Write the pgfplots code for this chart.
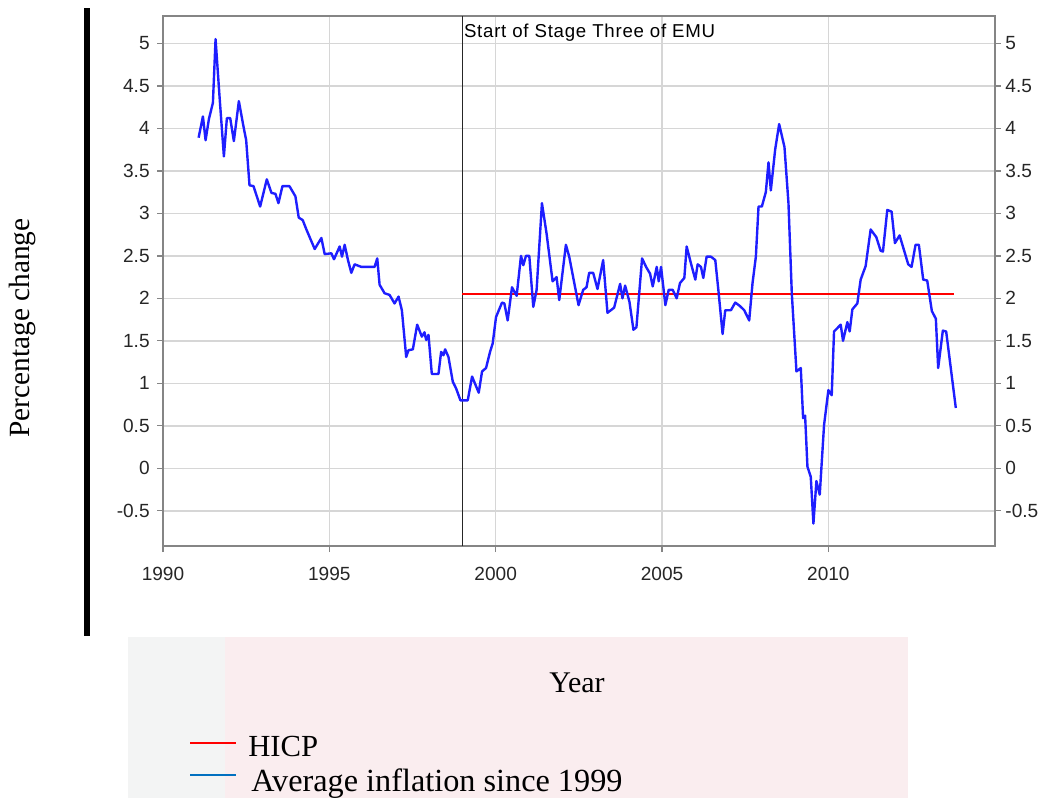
\documentclass[border=0pt]{standalone}
\usepackage{fontspec}
\setmainfont{Liberation Serif}
\newfontfamily\sansf{Liberation Sans}
\newfontfamily\sansw{Liberation Sans}[LetterSpace=4]
\usepackage{pgfplots}
\pgfplotsset{compat=1.18}
\definecolor{gridc}{HTML}{D6D6D6}
\definecolor{axc}{HTML}{858585}
\definecolor{bluel}{HTML}{1E1EFF}
\definecolor{legblue}{HTML}{0070C0}
\definecolor{wmpink}{HTML}{FAEDEF}
\definecolor{wmgray}{HTML}{F3F4F4}
\begin{document}
\begin{tikzpicture}
\begin{scope}[x=0.75pt,y=-0.75pt]
\path[use as bounding box] (0,0) rectangle (1046,798);
\fill[wmgray] (128,637) rectangle (225,798);
\fill[wmpink] (225,637) rectangle (908,798);
\fill[black] (84,8) rectangle (90,636);
\node[rotate=90, font=\fontsize{22}{26}\selectfont] at (22,328) {Percentage change};
\node[font=\fontsize{22.5}{26}\selectfont] at (577,683) {Year};
\draw[red, line width=1.5pt] (190,743) -- (236,743);
\node[anchor=base west, inner sep=0pt, font=\fontsize{23}{26}\selectfont] at (248,756) {HICP};
\draw[legblue, line width=1.5pt] (190,775) -- (236,775);
\node[anchor=base west, inner sep=0pt, font=\fontsize{24.2}{26}\selectfont] at (251,791) {Average inflation since 1999};
\end{scope}
\begin{axis}[
  at={(122.25pt,-409.5pt)}, anchor=south west, scale only axis,
  width=623.8pt, height=397.7pt,
  xmin=1990, xmax=2015, ymin=-0.914, ymax=5.325,
  xtick={1990,1995,2000,2005,2010},
  xticklabels={1990,1995,2000,2005,2010},
  ytick={-0.5,0,0.5,1,1.5,2,2.5,3,3.5,4,4.5,5},
  yticklabels={-0.5,0,0.5,1,1.5,2,2.5,3,3.5,4,4.5,5},
  xtick pos=bottom, ytick pos=left,
  tick align=outside, major tick length=4.5pt,
  grid=major, major grid style={gridc, line width=1.1pt},
  axis line style={axc, line width=1.4pt},
  tick style={axc, line width=1pt},
  ticklabel style={font=\sansf\fontsize{14.3}{16}\selectfont, text=black!85},
  xticklabel style={yshift=-8pt},
  yticklabel style={xshift=-2pt},
  clip=false,
]
\addplot[black!85, line width=1.1pt] coordinates {(1999,-0.914) (1999,5.325)};
\node[anchor=west, inner sep=1pt, font=\sansw\fontsize{14}{16}\selectfont] at (axis cs:1999,5.12) {Start of Stage Three of EMU};
\addplot[red, line width=1.5pt] coordinates {(1999,2.05) (2013.77,2.05)};
\addplot[bluel, line width=1.8pt, line join=round] coordinates {
(1991.07,3.89) (1991.20,4.14) (1991.28,3.86) (1991.38,4.11) (1991.50,4.30)
(1991.58,5.05) (1991.70,4.37) (1991.83,3.67) (1991.92,4.12) (1992.02,4.12)
(1992.13,3.85) (1992.28,4.32) (1992.42,4.02) (1992.50,3.86) (1992.60,3.33)
(1992.72,3.32) (1992.92,3.08) (1993.12,3.40) (1993.26,3.24) (1993.38,3.23)
(1993.47,3.12) (1993.59,3.32) (1993.80,3.32) (1993.98,3.20) (1994.08,2.95)
(1994.20,2.92) (1994.31,2.81) (1994.56,2.58) (1994.76,2.71) (1994.86,2.52)
(1995.06,2.53) (1995.14,2.46) (1995.31,2.61) (1995.38,2.49) (1995.46,2.63)
(1995.56,2.45) (1995.66,2.30) (1995.76,2.40) (1995.96,2.37) (1996.36,2.37)
(1996.44,2.47) (1996.51,2.16) (1996.66,2.06) (1996.81,2.04) (1996.96,1.94)
(1997.08,2.02) (1997.18,1.86) (1997.31,1.31) (1997.38,1.39) (1997.51,1.40)
(1997.64,1.69) (1997.78,1.55) (1997.86,1.60) (1997.91,1.51) (1997.98,1.57)
(1998.08,1.11) (1998.28,1.11) (1998.36,1.37) (1998.43,1.33) (1998.48,1.40)
(1998.58,1.31) (1998.71,1.02) (1998.81,0.94) (1998.94,0.80) (1999.16,0.80)
(1999.29,1.08) (1999.49,0.89) (1999.59,1.14) (1999.71,1.18) (1999.83,1.37)
(1999.91,1.47) (2000.01,1.78) (2000.19,1.95) (2000.26,1.94) (2000.36,1.74)
(2000.49,2.13) (2000.63,2.03) (2000.76,2.50) (2000.83,2.39) (2000.91,2.50)
(2001.01,2.50) (2001.13,1.90) (2001.23,2.10) (2001.39,3.12) (2001.53,2.76)
(2001.71,2.20) (2001.83,2.25) (2001.91,1.98) (2002.11,2.63) (2002.21,2.49)
(2002.49,1.92) (2002.63,2.10) (2002.73,2.13) (2002.81,2.30) (2002.93,2.30)
(2003.06,2.11) (2003.23,2.45) (2003.36,1.83) (2003.56,1.89) (2003.74,2.17)
(2003.81,2.00) (2003.89,2.15) (2004.02,1.96) (2004.14,1.63) (2004.23,1.66)
(2004.40,2.47) (2004.52,2.37) (2004.64,2.29) (2004.72,2.14) (2004.84,2.37)
(2004.90,2.20) (2004.97,2.37) (2005.10,1.92) (2005.20,2.10) (2005.32,2.10)
(2005.44,2.00) (2005.54,2.18) (2005.67,2.24) (2005.74,2.61) (2005.87,2.41)
(2006.00,2.22) (2006.07,2.40) (2006.17,2.37) (2006.24,2.24) (2006.34,2.49)
(2006.47,2.49) (2006.60,2.45) (2006.70,2.07) (2006.82,1.58) (2006.90,1.86)
(2007.07,1.86) (2007.20,1.95) (2007.34,1.91) (2007.47,1.86) (2007.62,1.74)
(2007.72,2.18) (2007.82,2.49) (2007.90,3.08) (2008.00,3.08) (2008.12,3.25)
(2008.20,3.60) (2008.27,3.27) (2008.40,3.75) (2008.52,4.05) (2008.68,3.78)
(2008.80,3.12) (2008.90,2.06) (2009.04,1.14) (2009.17,1.18) (2009.24,0.59)
(2009.30,0.62) (2009.37,0.02) (2009.47,-0.10) (2009.55,-0.65) (2009.64,-0.15)
(2009.74,-0.31) (2009.87,0.51) (2010.00,0.92) (2010.10,0.86) (2010.17,1.61)
(2010.37,1.69) (2010.44,1.50) (2010.57,1.72) (2010.64,1.61) (2010.72,1.87)
(2010.87,1.94) (2010.97,2.22) (2011.12,2.38) (2011.27,2.81) (2011.44,2.72)
(2011.57,2.56) (2011.64,2.55) (2011.77,3.04) (2011.90,3.02) (2012.00,2.65)
(2012.14,2.74) (2012.27,2.57) (2012.40,2.40) (2012.50,2.37) (2012.62,2.63)
(2012.72,2.63) (2012.85,2.22) (2012.97,2.21) (2013.11,1.85) (2013.23,1.76)
(2013.30,1.18) (2013.44,1.62) (2013.54,1.61) (2013.83,0.71)
};
\end{axis}
\begin{axis}[
  at={(122.25pt,-409.5pt)}, anchor=south west, scale only axis,
  width=623.8pt, height=397.7pt,
  xmin=1990, xmax=2015, ymin=-0.914, ymax=5.325,
  axis x line=none, axis y line*=right,
  ytick={-0.5,0,0.5,1,1.5,2,2.5,3,3.5,4,4.5,5},
  yticklabels={-0.5,0,0.5,1,1.5,2,2.5,3,3.5,4,4.5,5},
  tick align=outside, major tick length=4.5pt,
  axis line style={axc, line width=1.4pt, -},
  tick style={axc, line width=1pt},
  ticklabel style={font=\sansf\fontsize{14.3}{16}\selectfont, text=black!85},
  yticklabel style={xshift=0pt},
]
\end{axis}
\end{tikzpicture}
\end{document}
